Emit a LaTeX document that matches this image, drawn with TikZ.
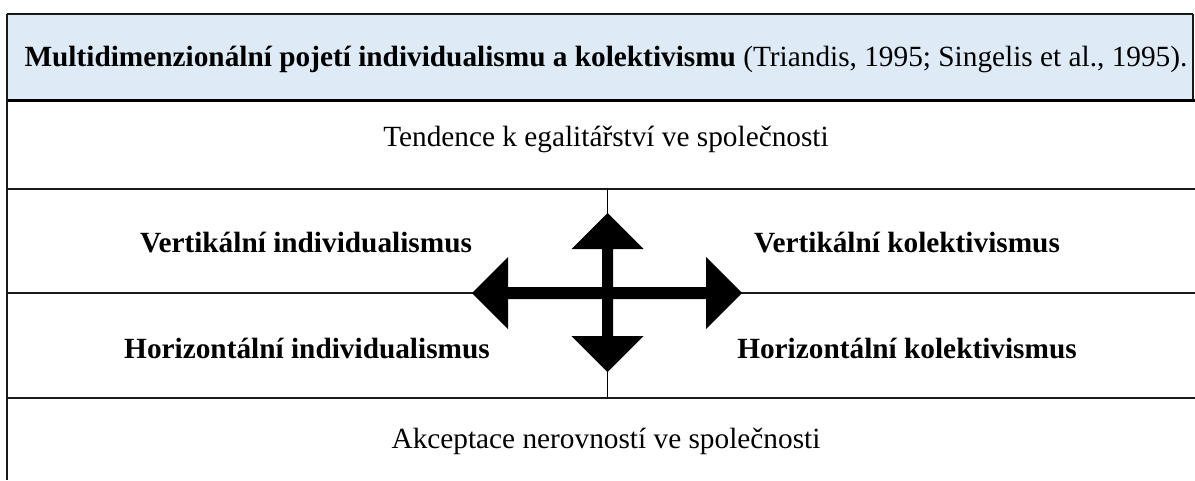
\documentclass[tikz,border=0pt]{standalone}
\usepackage{fontspec}
\setmainfont{Liberation Serif}
\definecolor{headblue}{HTML}{DEEAF6}
\tikzset{
  rule/.style={line width=2pt, draw=black!90},
  thickrule/.style={line width=3pt, draw=black},
  txt/.style={anchor=base, inner sep=0pt, font=\fontsize{29.3}{34}\selectfont},
  btxt/.style={txt, font=\fontsize{29.3}{34}\selectfont\bfseries},
  arrowfill/.style={fill=black, draw=none}
}
\begin{document}
\begin{tikzpicture}[x=1pt,y=-1pt]
\useasboundingbox (0,0) rectangle (1195,480);
% header
\fill[headblue] (7,14) rectangle (1193,100);
\draw[rule] (7,14) -- (1193,14);
\draw[rule] (1193,14) -- (1193,100);
\draw[thickrule] (7,100.5) -- (1195,100.5);
% left border
\draw[rule] (7,14) -- (7,480);
% rows
\draw[rule] (7,188.5) -- (1195,188.5);
\draw[line width=1.4pt] (607.5,188.5) -- (607.5,398);
\draw[rule] (7,293) -- (1195,293);
\draw[rule] (7,398) -- (1195,398);
% texts
\node[txt] (head) at (606,66) {\textbf{Multidimenzionální pojetí individualismu a kolektivismu} (Triandis, 1995; Singelis et al., 1995).};
\node[txt] (tend) at (606,146) {Tendence k egalitářství ve společnosti};
\node[btxt] (vi) at (306,252) {Vertikální individualismus};
\node[btxt] (vk) at (907,252) {Vertikální kolektivismus};
\node[btxt] (hi) at (307,358) {Horizontální individualismus};
\node[btxt] (hk) at (907,358) {Horizontální kolektivismus};
\node[txt] (akc) at (606,448) {Akceptace nerovností ve společnosti};
% cross arrows
\fill[arrowfill] (472,293) -- (508,257) -- (508,287) -- (706,287) -- (706,257) -- (742,293)
  -- (706,329) -- (706,299) -- (508,299) -- (508,329) -- cycle;
\fill[arrowfill] (607.5,213) -- (643.5,249) -- (613,249) -- (613,336) -- (643.5,336) -- (607.5,372)
  -- (571.5,336) -- (602,336) -- (602,249) -- (571.5,249) -- cycle;
\end{tikzpicture}
\end{document}
